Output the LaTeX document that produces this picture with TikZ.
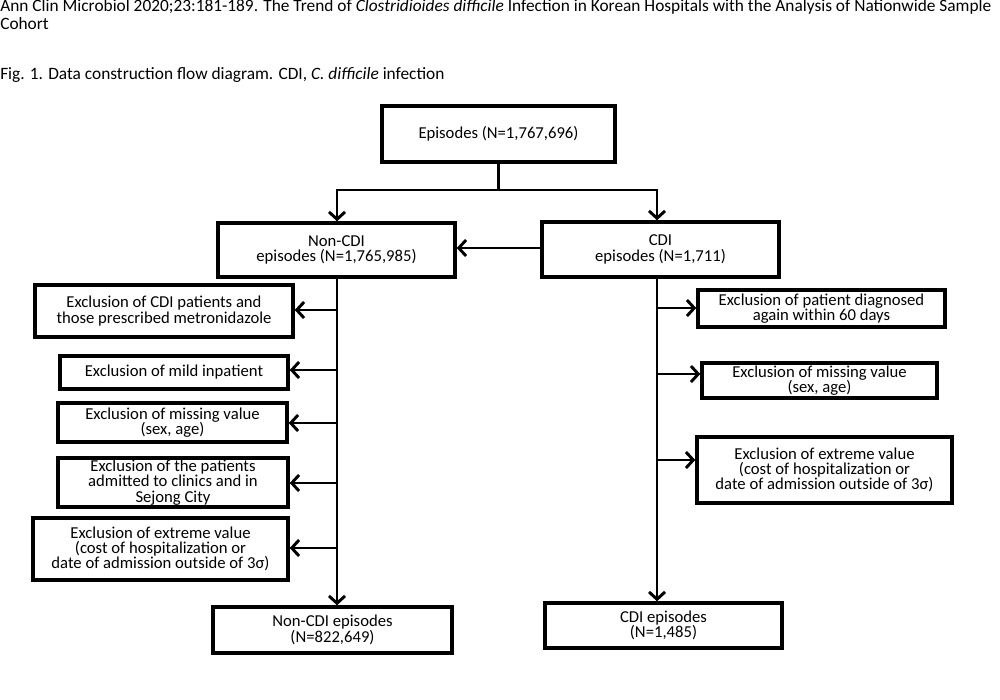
\documentclass[tikz,border=0pt]{standalone}
\usepackage{fontspec}
\setmainfont{Carlito}
\usetikzlibrary{arrows.meta}
\begin{document}
\begin{tikzpicture}[x=0.75pt,y=-0.75pt,
  box/.style={draw, line width=2.6pt, align=center, inner sep=0pt,
    font=\fontsize{12.5}{11.5}\selectfont},
  sz/.style 2 args={minimum width=#1*0.75pt, minimum height=#2*0.75pt},
  conn/.style={line width=2.2pt},
  arr/.style={line width=2.2pt, -{Straight Barb[length=5.5pt,width=12pt]}},
  hdr/.style={anchor=base west, inner sep=0pt, align=left,
    font=\fontsize{13}{13.5}\selectfont}]
\useasboundingbox (0,0) rectangle (1000,700);
\fill[white] (0,0) rectangle (1000,700);
% header
\node[hdr] (title) at (0,29) {Ann Clin Microbiol 2020;23:181-189. The Trend of \textit{Clostridioides difficile} Infection in Korean Hospitals with the Analysis of Nationwide Sample\\Cohort};
\node[hdr] (caption) at (0,79) {Fig. 1. Data construction flow diagram. CDI, \textit{C. difficile} infection};
% main boxes
\node[box, sz={233}{56}] (top) at (498.5,134) {Episodes (N=1,767,696)};
\node[box, sz={237}{54}] (nc) at (336.5,250) {Non-CDI\\episodes (N=1,765,985)};
\node[box, sz={237}{55}] (cdi) at (660.5,249.5) {CDI\\episodes (N=1,711)};
% left exclusions
\node[box, sz={258}{52}] (L1) at (164,311) {Exclusion of CDI patients and\\those prescribed metronidazole};
\node[box, sz={228}{33}] (L2) at (174,372.5) {Exclusion of mild inpatient};
\node[box, sz={229}{39}] (L3) at (172.5,422.5) {Exclusion of missing value\\(sex, age)};
\node[box, sz={230}{49}] (L4) at (173,482.5) {Exclusion of the patients\\admitted to clinics and in\\Sejong City};
\node[box, sz={255}{62}] (L5) at (160.5,549) {Exclusion of extreme value\\(cost of hospitalization or\\date of admission outside of 3σ)};
\node[box, sz={239}{46}] (ncf) at (332.5,630) {Non-CDI episodes\\(N=822,649)};
% right exclusions
\node[box, sz={247}{37}] (R1) at (821.5,308.5) {Exclusion of patient diagnosed\\again within 60 days};
\node[box, sz={235}{35}] (R2) at (819.5,380.5) {Exclusion of missing value\\(sex, age)};
\node[box, sz={255}{66}] (R3) at (824.5,470) {Exclusion of extreme value\\(cost of hospitalization or\\date of admission outside of 3σ)};
\node[box, sz={237}{45}] (cf) at (663.5,625.5) {CDI episodes\\(N=1,485)};
% coordinates
\coordinate (j) at (498.5,190);
\coordinate (lx) at (337,0);
\coordinate (rx) at (657,0);
\coordinate (a0) at (0,248);
\coordinate (bL1) at (337,310);
\coordinate (bL2) at (337,370);
\coordinate (bL3) at (337,423);
\coordinate (bL4) at (337,483);
\coordinate (bL5) at (337,548);
\coordinate (bR1) at (657,308);
\coordinate (bR2) at (657,374);
\coordinate (bR3) at (657,460);
% connectors
\draw[conn] (top.south) -- (j);
\draw[arr] (j) -| (nc.north -| lx);
\draw[arr] (j) -| (cdi.north -| rx);
\draw[arr] (cdi.west |- a0) -- (nc.east |- a0);
\draw[arr] (nc.south -| lx) -- (ncf.north -| lx);
\draw[arr] (cdi.south -| rx) -- (cf.north -| rx);
\draw[arr] (bL1) -- (bL1 -| L1.east);
\draw[arr] (bL2) -- (bL2 -| L2.east);
\draw[arr] (bL3) -- (bL3 -| L3.east);
\draw[arr] (bL4) -- (bL4 -| L4.east);
\draw[arr] (bL5) -- (bL5 -| L5.east);
\draw[arr] (bR1) -- (bR1 -| R1.west);
\draw[arr] (bR2) -- (bR2 -| R2.west);
\draw[arr] (bR3) -- (bR3 -| R3.west);
\end{tikzpicture}
\end{document}
